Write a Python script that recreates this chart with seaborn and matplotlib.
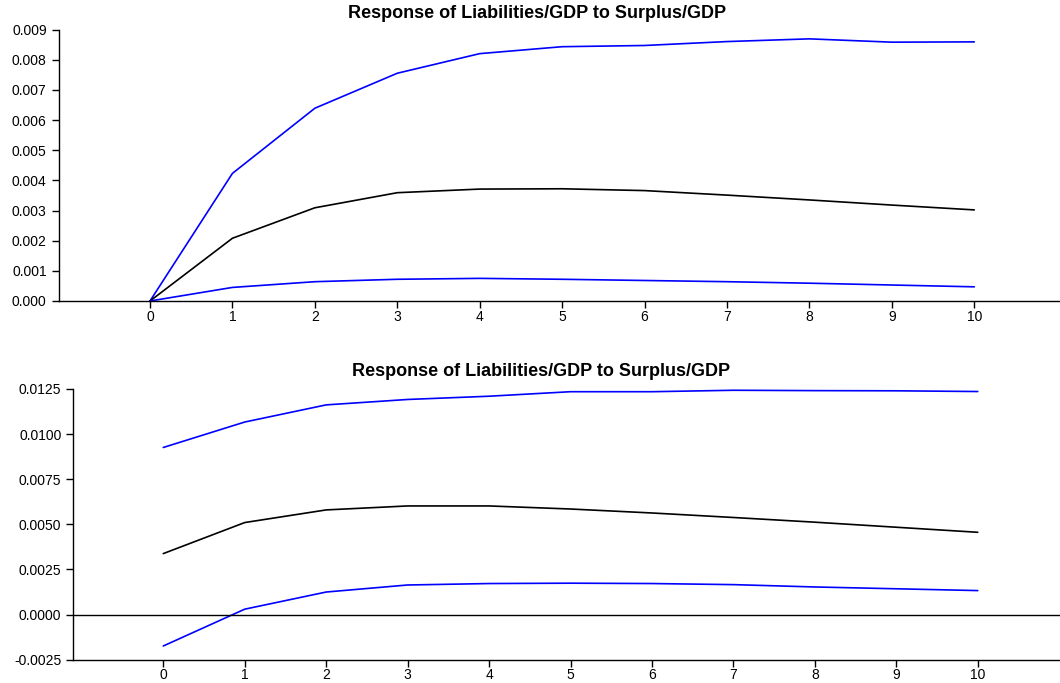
import matplotlib
matplotlib.use('Agg')
import matplotlib.pyplot as plt
import seaborn as sns
import pandas as pd

# impulse response horizon
periods = list(range(11))

# top panel: response and +/- 2 s.e. bands
top_resp = [0.0, 0.00208, 0.00309, 0.00359, 0.00371, 0.00372, 0.00366, 0.00351, 0.00335, 0.00318, 0.00302]
top_upper = [0.0, 0.00423, 0.00639, 0.00755, 0.00820, 0.00843, 0.00847, 0.00860, 0.00869, 0.00858, 0.00859]
top_lower = [0.0, 0.00045, 0.00064, 0.00072, 0.00075, 0.00072, 0.00068, 0.00064, 0.00059, 0.00053, 0.00047]

# bottom panel
bot_resp = [0.00338, 0.00510, 0.00580, 0.00602, 0.00602, 0.00585, 0.00563, 0.00538, 0.00512, 0.00484, 0.00456]
bot_upper = [0.00926, 0.01067, 0.01162, 0.01192, 0.01210, 0.01235, 0.01235, 0.01243, 0.01241, 0.01240, 0.01236]
bot_lower = [-0.00174, 0.00030, 0.00125, 0.00164, 0.00172, 0.00174, 0.00172, 0.00166, 0.00153, 0.00143, 0.00133]

title = 'Response of Liabilities/GDP to Surplus/GDP'

sns.set_style('ticks')
plt.rcParams['font.family'] = ['Liberation Sans', 'DejaVu Sans']

fig = plt.figure(figsize=(10.6, 6.83), dpi=100)
ax1 = fig.add_axes([58.5 / 1060, 1 - 301 / 683, 1 - 58.5 / 1060, (301 - 29.5) / 683])
ax2 = fig.add_axes([73.3 / 1060, 1 - 659.7 / 683, 1 - 73.3 / 1060, (659.7 - 389) / 683])


def draw_panel(ax, resp, upper, lower):
    df = pd.DataFrame({'period': periods, 'resp': resp, 'upper': upper, 'lower': lower})
    sns.lineplot(data=df, x='period', y='upper', ax=ax, color='#0000ff', lw=1.2)
    sns.lineplot(data=df, x='period', y='resp', ax=ax, color='black', lw=1.2)
    sns.lineplot(data=df, x='period', y='lower', ax=ax, color='#0000ff', lw=1.2)
    ax.set_xticks(periods)
    ax.set_xlabel('')
    ax.set_ylabel('')
    sns.despine(ax=ax)
    ax.tick_params(labelsize=10, length=5, width=1, colors='black')
    ax.tick_params(axis='x', pad=1.2)
    for s in ['left', 'bottom']:
        ax.spines[s].set_linewidth(1)
        ax.spines[s].set_color('black')


draw_panel(ax1, top_resp, top_upper, top_lower)
ax1.set_xlim(-1.11, 11.04)
ax1.set_ylim(0, 0.009)
ax1.set_yticks([i * 0.001 for i in range(10)])
ax1.set_yticklabels([f'{i * 0.001:.3f}' for i in range(10)])
ax1.set_title(title, fontsize=13, fontweight='bold', color='black', x=0.478, y=1.0, pad=8)

draw_panel(ax2, bot_resp, bot_upper, bot_lower)
ax2.set_xlim(-1.105, 11.01)
ax2.set_ylim(-0.0025, 0.0125)
yt = [-0.0025 + i * 0.0025 for i in range(7)]
ax2.set_yticks(yt)
ax2.set_yticklabels([f'{v:.4f}' for v in yt])
ax2.axhline(0, color='black', lw=1)
ax2.set_title(title, fontsize=13, fontweight='bold', color='black', x=0.474, y=1.0, pad=9.5)

fig.savefig('out.png', dpi=100)
